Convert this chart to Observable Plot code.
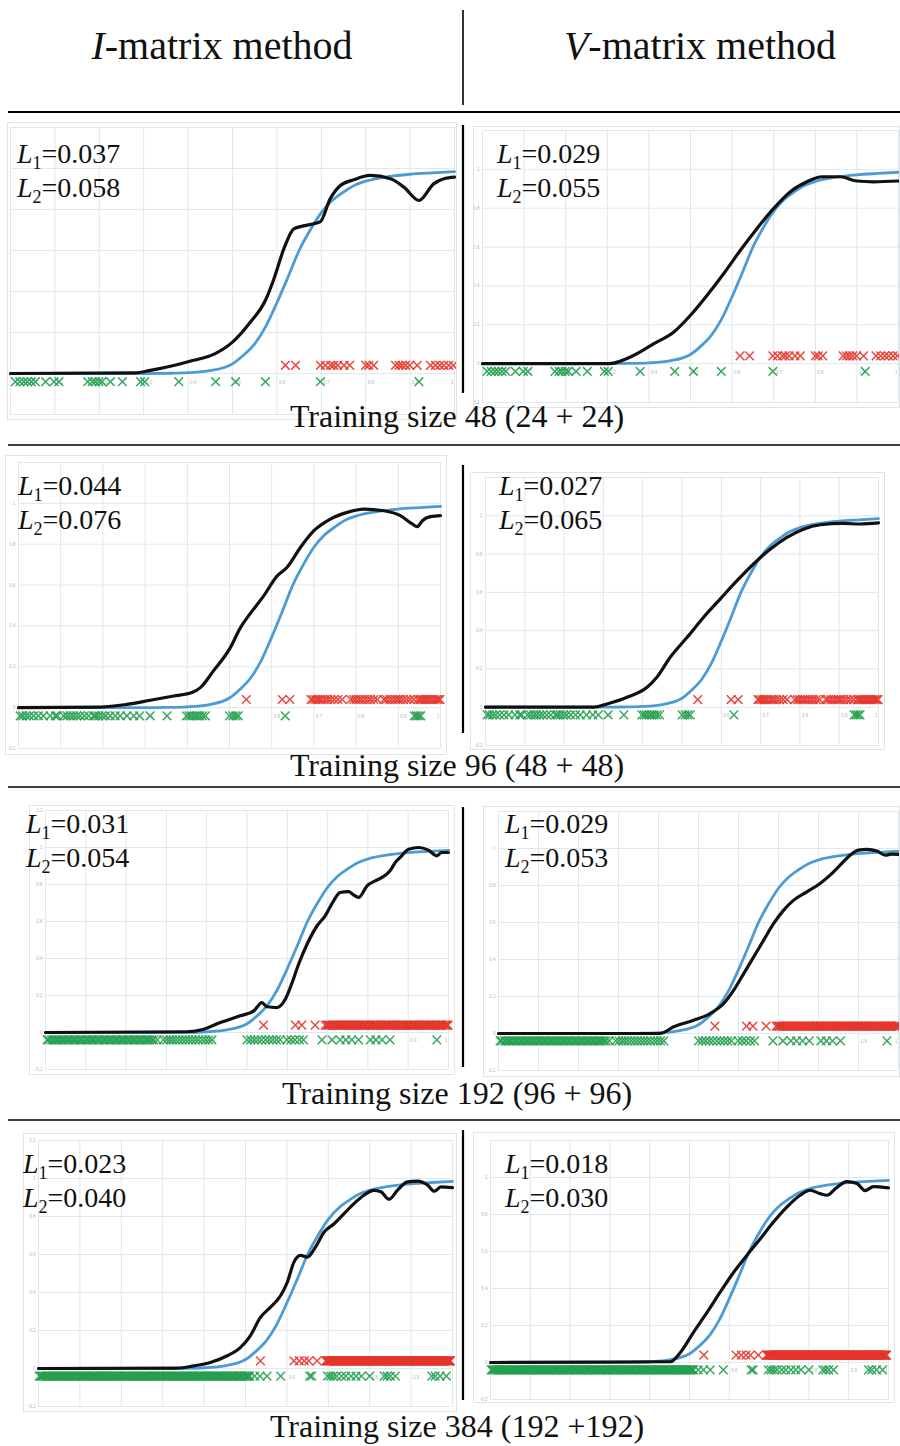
<!DOCTYPE html>
<html><head><meta charset="utf-8">
<script src="https://cdn.jsdelivr.net/npm/d3@7"></script>
<script src="https://cdn.jsdelivr.net/npm/@observablehq/plot@0.6"></script>
<style>
body{margin:0;background:#fff;}
#root{position:relative;width:900px;height:1446px;overflow:hidden;}
.panel{position:absolute;}
.panel svg{display:block;outline:1px solid #e2e2e2;outline-offset:-1px;}
#overlay{position:absolute;left:0;top:0;pointer-events:none;}
</style></head>
<body><div id="root"></div>
<script>
// ---------- data ----------
const xTicks = [0,0.1,0.2,0.3,0.4,0.5,0.6,0.7,0.8,0.9,1];
const xTickLabels = [0.1,0.2,0.3,0.4,0.5,0.6,0.7,0.8,0.9];
const xLastLabel = [1];
const yTicks = [-0.2,0,0.2,0.4,0.6,0.8,1,1.2];

const methods = ["I", "V"];
const captions = ["Training size 48 (24 + 24)","Training size 96 (48 + 48)","Training size 192 (96 + 96)","Training size 384 (192 +192)"];
const L1 = [[0.037,0.029],[0.044,0.027],[0.031,0.029],[0.023,0.018]];
const L2 = [[0.058,0.055],[0.076,0.065],[0.054,0.053],[0.040,0.030]];

// true conditional probability (blue)
const trueCurve = [[0,0],[0.30,0],[0.35,0.001],[0.40,0.004],[0.45,0.014],[0.50,0.047],[0.525,0.09],[0.55,0.145],[0.575,0.23],[0.60,0.345],[0.625,0.47],[0.65,0.6],[0.675,0.7],[0.70,0.785],[0.725,0.845],[0.75,0.885],[0.775,0.918],[0.80,0.938],[0.85,0.96],[0.90,0.972],[0.95,0.979],[1.0,0.985]];

// estimated curves (black)
const blackI48 = [[0,0],[0.28,0.003],[0.315,0.015],[0.37,0.04],[0.41,0.063],[0.46,0.096],[0.50,0.153],[0.54,0.25],[0.574,0.356],[0.593,0.46],[0.616,0.61],[0.638,0.706],[0.66,0.72],[0.698,0.741],[0.72,0.852],[0.743,0.917],[0.773,0.945],[0.81,0.966],[0.856,0.95],[0.886,0.909],[0.92,0.844],[0.953,0.925],[0.976,0.95],[1,0.958]];
const blackV48 = [[0,0],[0.304,0],[0.364,0.043],[0.412,0.103],[0.46,0.163],[0.5,0.249],[0.54,0.352],[0.58,0.464],[0.62,0.584],[0.66,0.696],[0.70,0.799],[0.74,0.885],[0.78,0.936],[0.816,0.962],[0.86,0.962],[0.90,0.94],[0.94,0.936],[1,0.94]];
const blackI96 = [[0,0],[0.194,0.003],[0.257,0.016],[0.312,0.036],[0.368,0.057],[0.411,0.074],[0.431,0.098],[0.462,0.18],[0.502,0.294],[0.526,0.392],[0.545,0.449],[0.581,0.547],[0.613,0.645],[0.636,0.686],[0.668,0.784],[0.70,0.866],[0.739,0.923],[0.779,0.956],[0.818,0.972],[0.866,0.964],[0.905,0.94],[0.933,0.899],[0.945,0.886],[0.957,0.915],[0.976,0.935],[1,0.94]];
const blackV96 = [[0,0],[0.275,0],[0.309,0.017],[0.36,0.052],[0.411,0.104],[0.436,0.157],[0.47,0.261],[0.513,0.365],[0.555,0.47],[0.597,0.565],[0.64,0.661],[0.682,0.748],[0.725,0.826],[0.767,0.887],[0.809,0.93],[0.852,0.953],[0.911,0.96],[0.953,0.957],[1,0.963]];
const blackI192 = [[0,0],[0.351,0.004],[0.393,0.018],[0.434,0.054],[0.483,0.09],[0.517,0.117],[0.537,0.162],[0.55,0.139],[0.574,0.135],[0.595,0.18],[0.612,0.27],[0.628,0.369],[0.649,0.477],[0.674,0.577],[0.694,0.631],[0.715,0.712],[0.731,0.757],[0.752,0.762],[0.764,0.744],[0.777,0.73],[0.798,0.793],[0.818,0.82],[0.835,0.838],[0.855,0.874],[0.868,0.919],[0.88,0.946],[0.901,0.991],[0.926,1.0],[0.95,0.986],[0.971,0.955],[0.983,0.973],[1,0.973]];
const blackV192 = [[0,0],[0.404,0],[0.438,0.036],[0.488,0.072],[0.529,0.108],[0.563,0.162],[0.588,0.234],[0.613,0.324],[0.638,0.414],[0.663,0.505],[0.688,0.595],[0.713,0.667],[0.738,0.721],[0.771,0.766],[0.804,0.811],[0.829,0.856],[0.854,0.91],[0.879,0.964],[0.9,0.991],[0.921,0.995],[0.946,0.986],[0.967,0.964],[0.983,0.97],[1,0.968]];
const blackI384 = [[0,0],[0.335,0.002],[0.375,0.014],[0.415,0.032],[0.456,0.067],[0.488,0.111],[0.512,0.173],[0.536,0.269],[0.56,0.322],[0.585,0.384],[0.601,0.454],[0.617,0.56],[0.633,0.595],[0.649,0.586],[0.669,0.639],[0.69,0.718],[0.714,0.762],[0.738,0.815],[0.762,0.868],[0.786,0.912],[0.81,0.938],[0.827,0.93],[0.847,0.891],[0.867,0.938],[0.891,0.982],[0.915,0.986],[0.94,0.965],[0.956,0.933],[0.972,0.956],[1,0.952]];
const blackV384 = [[0,0],[0.452,0.004],[0.477,0.054],[0.51,0.163],[0.544,0.271],[0.577,0.38],[0.611,0.488],[0.644,0.579],[0.678,0.669],[0.711,0.759],[0.745,0.841],[0.778,0.904],[0.803,0.931],[0.828,0.913],[0.845,0.904],[0.87,0.946],[0.895,0.978],[0.921,0.967],[0.941,0.929],[0.962,0.951],[1,0.944]];

// training points: class 1 (red) and class 0 (green)
const red48 = [0.619,0.642,0.698,0.709,0.721,0.728,0.737,0.751,0.764,0.800,0.807,0.818,0.867,0.875,0.882,0.890,0.899,0.916,0.946,0.957,0.967,0.976,0.987,0.997];
const green48 = [0.011,0.021,0.030,0.038,0.047,0.056,0.079,0.098,0.109,0.174,0.184,0.191,0.199,0.206,0.225,0.252,0.293,0.302,0.379,0.462,0.507,0.574,0.698,0.920];

const red96 = [0.540,0.625,0.643,
 0.693,0.698,0.704,0.709,0.714,0.720,0.727,0.733,0.740,0.748,0.757,0.767,
 0.787,0.794,0.800,0.807,0.813,0.820,0.827,0.834,0.842,0.850,
 0.866,0.872,0.879,0.886,0.893,0.899,0.905,0.912,0.920,0.928,0.937,
 0.946,0.951,0.956,0.961,0.966,0.971,0.976,0.981,0.986,0.991,0.995,0.999];
const green96 = [0.004,0.010,0.018,0.026,0.036,0.047,0.059,0.075,0.087,0.092,
 0.107,0.115,0.123,0.130,0.138,0.146,0.156,0.166,0.178,0.183,
 0.190,0.198,0.206,0.217,0.229,0.241,0.257,0.273,0.287,
 0.312,0.352,
 0.398,0.404,0.410,0.417,0.423,0.429,0.436,0.443,
 0.500,0.508,0.515,0.521,
 0.632,
 0.938,0.943,0.948,0.953];

const red192 = [0.541,0.620,0.636,0.669,
 0.694,0.698,0.701,0.703,0.707,0.711,0.713,0.717,0.722,0.724,
 0.728,0.731,0.735,0.738,0.740,0.744,0.749,0.751,0.754,0.758,
 0.762,0.765,0.767,0.771,0.776,0.778,0.781,0.785,0.789,0.792,
 0.794,0.798,0.803,0.805,0.808,0.812,0.816,0.819,0.821,0.825,
 0.830,0.832,0.835,0.839,0.843,0.846,0.848,0.852,0.857,0.859,
 0.862,0.866,0.870,0.873,0.875,0.879,0.884,0.886,0.889,0.893,
 0.897,0.900,0.902,0.906,0.911,0.913,0.916,0.920,0.924,0.927,
 0.929,0.933,0.938,0.940,0.943,0.947,0.951,0.954,0.956,0.960,
 0.965,0.967,0.970,0.974,0.978,0.981,0.983,0.987,0.992,0.994,
 0.997,0.999];
const green192 = [0.004,0.008,0.015,0.019,0.025,0.029,0.034,0.040,0.044,0.049,
 0.055,0.058,0.064,0.070,0.073,0.079,0.085,0.088,0.094,0.100,
 0.103,0.109,0.115,0.118,0.124,0.130,0.133,0.139,0.145,0.148,
 0.154,0.160,0.163,0.169,0.175,0.178,0.184,0.190,0.193,0.199,
 0.205,0.208,0.214,0.220,0.223,0.229,0.235,0.238,0.244,0.250,
 0.253,0.258,0.264,0.269,
 0.277,
 0.293,0.301,0.309,0.316,0.324,0.332,0.340,0.348,0.356,0.364,0.372,0.380,0.389,0.397,0.405,0.413,
 0.500,0.509,0.518,0.527,0.536,0.546,0.555,0.564,0.573,0.582,
 0.599,0.609,0.619,0.630,0.640,
 0.686,0.711,
 0.731,0.745,0.760,0.777,
 0.806,0.820,0.835,0.855,
 0.971];

const red384 = [0.536,0.617,0.630,0.642,0.653,0.673,
 0.694,0.696,0.697,0.699,0.701,0.702,0.704,0.706,0.707,0.709,
 0.711,0.712,0.714,0.716,0.717,0.719,0.720,0.722,0.724,0.725,
 0.727,0.729,0.730,0.732,0.733,0.735,0.737,0.738,0.740,0.742,
 0.743,0.745,0.746,0.748,0.750,0.751,0.753,0.755,0.756,0.758,
 0.759,0.761,0.763,0.764,0.766,0.768,0.769,0.771,0.772,0.774,
 0.776,0.777,0.779,0.781,0.782,0.784,0.785,0.787,0.789,0.790,
 0.792,0.794,0.795,0.797,0.798,0.800,0.802,0.803,0.805,0.807,
 0.808,0.810,0.811,0.813,0.815,0.816,0.818,0.820,0.821,0.823,
 0.824,0.826,0.828,0.829,0.831,0.833,0.834,0.836,0.837,0.839,
 0.841,0.842,0.844,0.846,0.847,0.849,0.850,0.852,0.854,0.855,
 0.857,0.859,0.860,0.862,0.863,0.865,0.867,0.868,0.870,0.872,
 0.873,0.875,0.876,0.878,0.880,0.881,0.883,0.885,0.886,0.888,
 0.889,0.891,0.893,0.894,0.896,0.898,0.899,0.901,0.902,0.904,
 0.906,0.907,0.909,0.911,0.912,0.914,0.915,0.917,0.919,0.920,
 0.922,0.924,0.925,0.927,0.928,0.930,0.932,0.933,0.935,0.937,
 0.938,0.940,0.941,0.943,0.945,0.946,0.948,0.950,0.951,0.953,
 0.954,0.956,0.958,0.959,0.961,0.963,0.964,0.966,0.967,0.969,
 0.971,0.972,0.974,0.976,0.977,0.979,0.980,0.982,0.984,0.985,
 0.987,0.989,0.990,0.992,0.993,0.995];
const green384 = [0.002,0.005,0.008,0.011,0.015,0.018,0.021,0.024,0.027,0.031,
 0.034,0.037,0.040,0.043,0.047,0.050,0.053,0.056,0.059,0.063,
 0.066,0.069,0.072,0.075,0.079,0.082,0.085,0.088,0.091,0.095,
 0.098,0.101,0.104,0.107,0.111,0.114,0.117,0.120,0.123,0.127,
 0.130,0.133,0.136,0.139,0.143,0.146,0.149,0.152,0.155,0.159,
 0.162,0.165,0.168,0.171,0.175,0.178,0.181,0.184,0.187,0.191,
 0.194,0.197,0.200,0.203,0.207,0.210,0.213,0.216,0.219,0.223,
 0.226,0.229,0.232,0.235,0.239,0.242,0.245,0.248,0.251,0.255,
 0.258,0.261,0.264,0.267,0.271,0.274,0.277,0.280,0.283,0.287,
 0.290,0.293,0.296,0.299,0.303,0.306,0.309,0.312,0.315,0.319,
 0.322,0.325,0.328,0.331,0.335,0.338,0.341,0.344,0.347,0.351,
 0.354,0.357,0.360,0.363,0.367,0.370,0.373,0.376,0.379,0.383,
 0.386,0.389,0.392,0.395,0.399,0.402,0.405,0.408,0.411,0.415,
 0.418,0.421,0.424,0.427,0.431,0.434,0.437,0.440,0.443,0.447,
 0.450,0.453,0.456,0.459,0.463,0.466,0.469,0.472,0.475,0.479,
 0.482,0.485,0.488,0.491,0.495,0.498,0.501,0.504,0.507,0.510,
 0.522,0.535,0.552,0.585,
 0.655,0.660,
 0.698,0.705,0.712,0.720,0.732,0.742,
 0.755,0.767,0.780,0.800,
 0.835,0.842,0.850,0.862,
 0.950,0.958,0.970,0.985];

const curvesI = [blackI48, blackI96, blackI192, blackI384];
const curvesV = [blackV48, blackV96, blackV192, blackV384];
const reds = [red48, red96, red192, red384];
const greens = [green48, green96, green192, green384];

// ---------- layout ----------
const layout = [
  [{left:7,top:122,w:450,h:298,ml:3,mr:3,mt:5,mb:6,lx:17,lb:163},
   {left:473,top:126,w:427,h:282,ml:9,mr:2,mt:4,mb:6,lx:497,lb:163}],
  [{left:5,top:455,w:442,h:300,ml:13,mr:7,mt:7,mb:7,lx:18,lb:495},
   {left:470,top:472,w:415,h:278,ml:15,mr:7,mt:5,mb:5,lx:499,lb:495}],
  [{left:29,top:805,w:426,h:270,ml:16,mr:7,mt:5,mb:6,lx:26,lb:833},
   {left:483,top:806,w:417,h:271,ml:15,mr:2,mt:5,mb:7,lx:505,lb:833}],
  [{left:23,top:1133,w:434,h:279,ml:15,mr:5,mt:7,mb:6,lx:23,lb:1173},
   {left:473,top:1132,w:422,h:271,ml:17,mr:7,mt:8,mb:4,lx:505,lb:1173}]
];
const captionBase = [427, 776, 1104, 1437];
const rowSeps = [[125,393],[465,733],[807,1067],[1130,1400]];
const hLines = [445, 787, 1120];

const root = document.getElementById("root");
const fmt = d => String(+d.toFixed(1));

function makePanel(spec, curve, red, green) {
  const tickStyle = {fontSize: 4.5, fill: "#b5b5b5"};
  const marks = [
    Plot.gridX(xTicks, {stroke: "#dfe7ef", strokeOpacity: 1, strokeWidth: 1}),
    Plot.gridY(yTicks, {stroke: "#dfe7ef", strokeOpacity: 1, strokeWidth: 1})
  ];
  if (spec.ml >= 8) {
    const yLab = yTicks.filter(v => v < 1.1 || spec.lx < spec.left + spec.ml - 12);
    marks.push(Plot.axisY(yLab, {tickSize: 0, tickPadding: 3, tickFormat: fmt, ...tickStyle}));
  }
  marks.push(
    Plot.text(xTickLabels, {x: d => d, y: -0.045, text: fmt, dx: 2, textAnchor: "start", ...tickStyle}),
    Plot.text(xLastLabel, {x: d => d, y: -0.045, text: fmt, dx: -1, textAnchor: "end", ...tickStyle}),
    Plot.dot(green, {x: d => d, y: -0.04, symbol: "times", r: 4, stroke: "#24a04e", strokeWidth: 1.5, strokeOpacity: 0.9}),
    Plot.dot(red, {x: d => d, y: 0.04, symbol: "times", r: 4, stroke: "#e5352c", strokeWidth: 1.5, strokeOpacity: 0.9}),
    Plot.line(trueCurve, {x: d => d[0], y: d => d[1], stroke: "#4b9bd5", strokeWidth: 2.8, curve: "monotone-x"}),
    Plot.line(curve, {x: d => d[0], y: d => d[1], stroke: "#111", strokeWidth: 3.2, curve: "monotone-x"})
  );
  const chart = Plot.plot({
    width: spec.w, height: spec.h,
    marginLeft: spec.ml, marginRight: spec.mr, marginTop: spec.mt, marginBottom: spec.mb,
    x: {domain: [0, 1], axis: null},
    y: {domain: [-0.2, 1.2], axis: null},
    style: {background: "#fff", fontFamily: "Liberation Sans, sans-serif"},
    marks
  });
  const div = document.createElement("div");
  div.className = "panel";
  div.style.left = spec.left + "px";
  div.style.top = spec.top + "px";
  div.appendChild(chart);
  root.appendChild(div);
}

for (let r = 0; r < 4; r++) {
  makePanel(layout[r][0], curvesI[r], reds[r], greens[r]);
  makePanel(layout[r][1], curvesV[r], reds[r], greens[r]);
}

// ---------- text & rules overlay ----------
const ov = d3.create("svg").attr("id", "overlay").attr("width", 900).attr("height", 1446)
  .attr("font-family", "Liberation Serif, Times New Roman, serif").attr("fill", "#111");

[[222, methods[0]], [700, methods[1]]].forEach(([cx, m]) => {
  const t = ov.append("text").attr("x", cx).attr("y", 59).attr("text-anchor", "middle").attr("font-size", 40);
  t.append("tspan").attr("font-style", "italic").text(m);
  t.append("tspan").text("-matrix method");
});
ov.append("line").attr("x1", 463).attr("x2", 463).attr("y1", 10).attr("y2", 105).attr("stroke", "#000").attr("stroke-width", 1.6);
ov.append("line").attr("x1", 8).attr("x2", 900).attr("y1", 112).attr("y2", 112).attr("stroke", "#000").attr("stroke-width", 2.2);
hLines.forEach(y => ov.append("line").attr("x1", 8).attr("x2", 900).attr("y1", y).attr("y2", y).attr("stroke", "#000").attr("stroke-width", 1.6));
rowSeps.forEach(([a, b]) => ov.append("line").attr("x1", 463).attr("x2", 463).attr("y1", a).attr("y2", b).attr("stroke", "#000").attr("stroke-width", 2.2));

captions.forEach((c, r) => ov.append("text").attr("x", 457).attr("y", captionBase[r]).attr("text-anchor", "middle").attr("font-size", 32).text(c));

function lLabel(x, y, sub, val) {
  const t = ov.append("text").attr("x", x).attr("y", y).attr("font-size", 28);
  t.append("tspan").attr("font-style", "italic").text("L");
  t.append("tspan").attr("font-size", 18).attr("dy", 6).text(sub);
  t.append("tspan").attr("dy", -6).text("=" + val.toFixed(3));
}
for (let r = 0; r < 4; r++) {
  for (let c = 0; c < 2; c++) {
    const s = layout[r][c];
    lLabel(s.lx, s.lb, "1", L1[r][c]);
    lLabel(s.lx, s.lb + 34, "2", L2[r][c]);
  }
}
root.appendChild(ov.node());
</script>
</body></html>
